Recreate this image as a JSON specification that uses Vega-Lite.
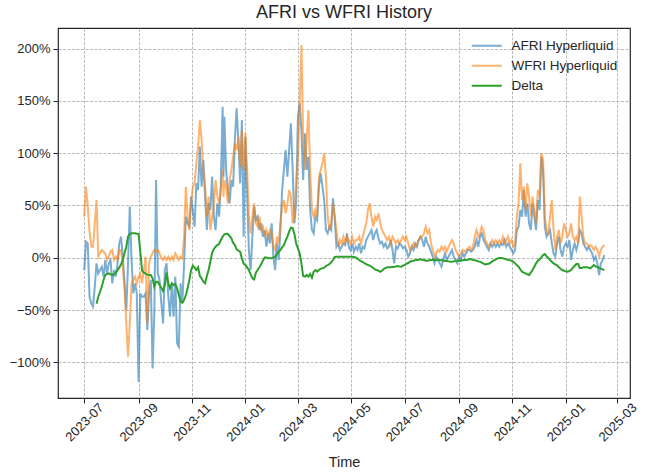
{
"$schema": "https://vega.github.io/schema/vega-lite/v6.json",
"width": 572, "height": 370,
"autosize": {"type": "none"},
"padding": {"left": 58, "top": 28, "right": 19, "bottom": 74},
"background": "white",
"title": {"text": "AFRI vs WFRI History", "fontSize": 18, "fontWeight": "normal", "color": "#262626", "offset": 6, "frame": "group", "anchor": "middle"},
"data": {"values": [
{"t":"2023-07-01","a":-0.118,"b":0.392},
{"t":"2023-07-03","a":0.153,"b":0.679},
{"t":"2023-07-05","a":0.137,"b":0.488},
{"t":"2023-07-07","a":-0.373,"b":0.249},
{"t":"2023-07-09","a":-0.436,"b":0.105},
{"t":"2023-07-11","a":-0.468,"b":0.105},
{"t":"2023-07-13","a":-0.277,"b":0.329},
{"t":"2023-07-15","a":-0.054,"b":0.552,"c":-0.44},
{"t":"2023-07-17","a":-0.15,"b":0.01,"c":-0.373},
{"t":"2023-07-19","a":-0.118,"b":0.042,"c":-0.325},
{"t":"2023-07-21","a":-0.086,"b":0.074,"c":-0.277},
{"t":"2023-07-23","a":-0.181,"b":0.058,"c":-0.213},
{"t":"2023-07-25","a":-0.022,"b":0.042,"c":-0.165},
{"t":"2023-07-27","a":-0.15,"b":-0.022,"c":-0.156},
{"t":"2023-07-29","a":-0.054,"b":0.01,"c":-0.15},
{"t":"2023-07-31","a":-0.022,"b":0.058,"c":-0.159},
{"t":"2023-08-02","a":-0.245,"b":0.074,"c":-0.165},
{"t":"2023-08-04","a":-0.118,"b":-0.022,"c":-0.156},
{"t":"2023-08-06","a":-0.181,"b":0.01,"c":-0.143},
{"t":"2023-08-08","a":-0.054,"b":-0.022,"c":-0.118},
{"t":"2023-08-10","a":0.137,"b":0.074,"c":-0.095},
{"t":"2023-08-12","a":0.201,"b":0.074,"c":-0.063},
{"t":"2023-08-14","a":0.01,"b":-0.086,"c":-0.022},
{"t":"2023-08-16","a":-0.245,"b":-0.309,"c":0.042},
{"t":"2023-08-18","a":-0.5,"b":-0.628,"c":0.105},
{"t":"2023-08-20","a":-0.054,"b":-0.946,"c":0.201},
{"t":"2023-08-22","a":0.49,"b":-0.628,"c":0.227},
{"t":"2023-08-24","a":-0.022,"b":-0.245,"c":0.233},
{"t":"2023-08-26","a":-0.341,"b":-0.213,"c":0.233},
{"t":"2023-08-28","a":-0.245,"b":-0.181,"c":0.233},
{"t":"2023-08-30","a":-0.341,"b":-0.245,"c":0.23},
{"t":"2023-09-01","a":-1.185,"b":-0.181,"c":0.227},
{"t":"2023-09-03","a":-0.341,"b":-0.15,"c":0.058},
{"t":"2023-09-05","a":-0.373,"b":-0.245,"c":-0.124},
{"t":"2023-09-07","a":-0.373,"b":-0.118,"c":-0.143},
{"t":"2023-09-09","a":-0.341,"b":0.01,"c":-0.153},
{"t":"2023-09-11","a":-0.691,"b":-0.628,"c":-0.162},
{"t":"2023-09-13","a":-0.341,"b":-0.054,"c":-0.165},
{"t":"2023-09-15","a":-0.213,"b":0.01,"c":-0.165},
{"t":"2023-09-17","a":-1.058,"b":0.042,"c":-0.197},
{"t":"2023-09-19","a":-0.532,"b":0.074,"c":-0.277},
{"t":"2023-09-21","a":0.743,"b":0.058,"c":-0.229},
{"t":"2023-09-23","a":-0.15,"b":0.074,"c":-0.229},
{"t":"2023-09-25","a":-0.213,"b":0.042,"c":-0.261},
{"t":"2023-09-27","a":-0.436,"b":-0.006,"c":-0.286},
{"t":"2023-09-29","a":-0.628,"b":-0.022,"c":-0.318},
{"t":"2023-10-01","a":-0.118,"b":0.01,"c":-0.261},
{"t":"2023-10-03","a":-0.054,"b":-0.022,"c":-0.14},
{"t":"2023-10-05","a":-0.373,"b":0.01,"c":-0.245},
{"t":"2023-10-07","a":-0.564,"b":-0.022,"c":-0.293},
{"t":"2023-10-09","a":-0.245,"b":0.01,"c":-0.245},
{"t":"2023-10-11","a":-0.564,"b":-0.022,"c":-0.261},
{"t":"2023-10-13","a":-0.181,"b":0.042,"c":-0.251},
{"t":"2023-10-15","a":-0.819,"b":0.01,"c":-0.293},
{"t":"2023-10-17","a":-0.851,"b":-0.022,"c":-0.357},
{"t":"2023-10-19","a":-0.245,"b":0.01,"c":-0.42},
{"t":"2023-10-21","a":-0.436,"b":-0.006,"c":-0.43},
{"t":"2023-10-23","a":-0.054,"b":0.201,"c":-0.404},
{"t":"2023-10-25","a":0.392,"b":0.679,"c":-0.357},
{"t":"2023-10-27","a":0.329,"b":0.392,"c":-0.293},
{"t":"2023-10-29","a":0.297,"b":0.265,"c":-0.213},
{"t":"2023-10-31","a":0.584,"b":0.52,"c":-0.118},
{"t":"2023-11-02","a":0.456,"b":0.679,"c":-0.076},
{"t":"2023-11-04","a":0.297,"b":0.711,"c":-0.095},
{"t":"2023-11-06","a":0.711,"b":0.902,"c":-0.118},
{"t":"2023-11-08","a":0.647,"b":1.062,"c":-0.092},
{"t":"2023-11-10","a":1.062,"b":1.317,"c":-0.175},
{"t":"2023-11-12","a":0.679,"b":1.125,"c":-0.197},
{"t":"2023-11-14","a":0.934,"b":0.839,"c":-0.229},
{"t":"2023-11-16","a":0.584,"b":0.679,"c":-0.245},
{"t":"2023-11-18","a":0.265,"b":0.392,"c":-0.175},
{"t":"2023-11-20","a":0.52,"b":0.584,"c":-0.118},
{"t":"2023-11-22","a":0.456,"b":0.265,"c":-0.038},
{"t":"2023-11-24","a":0.775,"b":0.392,"c":0.048},
{"t":"2023-11-26","a":0.392,"b":0.488,"c":0.083},
{"t":"2023-11-28","a":0.265,"b":0.743,"c":0.105},
{"t":"2023-11-30","a":0.52,"b":0.584,"c":0.121},
{"t":"2023-12-02","a":0.392,"b":0.52,"c":0.131},
{"t":"2023-12-04","a":0.711,"b":0.647,"c":0.169},
{"t":"2023-12-06","a":1.444,"b":0.839,"c":0.201},
{"t":"2023-12-07","a":0.775,"b":0.584,"c":0.21},
{"t":"2023-12-08","a":1.348,"b":0.743,"c":0.224},
{"t":"2023-12-10","a":0.839,"b":0.679,"c":0.23},
{"t":"2023-12-12","a":0.647,"b":0.52,"c":0.227},
{"t":"2023-12-14","a":0.52,"b":0.743,"c":0.207},
{"t":"2023-12-16","a":0.743,"b":0.839,"c":0.185},
{"t":"2023-12-18","a":0.679,"b":0.966,"c":0.144},
{"t":"2023-12-20","a":1.125,"b":1.093,"c":0.121},
{"t":"2023-12-22","a":1.428,"b":1.03,"c":0.08},
{"t":"2023-12-24","a":1.125,"b":1.157,"c":0.067},
{"t":"2023-12-26","a":0.711,"b":0.87,"c":0.058},
{"t":"2023-12-28","a":1.317,"b":1.221,"c":-0.006},
{"t":"2023-12-30","a":0.201,"b":0.839,"c":-0.057},
{"t":"2024-01-01","a":1.157,"b":1.189,"c":-0.07},
{"t":"2024-01-03","a":0.584,"b":0.839,"c":-0.092},
{"t":"2024-01-05","a":0.074,"b":0.392,"c":-0.118},
{"t":"2024-01-07","a":-0.118,"b":0.233,"c":-0.159},
{"t":"2024-01-09","a":0.201,"b":0.392,"c":-0.197},
{"t":"2024-01-11","a":0.488,"b":0.52,"c":-0.207},
{"t":"2024-01-13","a":0.36,"b":0.329,"c":-0.143},
{"t":"2024-01-15","a":0.392,"b":0.297,"c":-0.118},
{"t":"2024-01-17","a":0.265,"b":0.392,"c":-0.092},
{"t":"2024-01-19","a":0.329,"b":0.265,"c":-0.063},
{"t":"2024-01-21","a":0.201,"b":0.297,"c":-0.028},
{"t":"2024-01-23","a":0.265,"b":0.201,"c":0.001},
{"t":"2024-01-25","a":0.105,"b":0.265,"c":0.001},
{"t":"2024-01-27","a":0.233,"b":0.201,"c":-0.006},
{"t":"2024-01-29","a":0.137,"b":0.265,"c":-0.006},
{"t":"2024-01-31","a":0.329,"b":0.233,"c":-0.006},
{"t":"2024-02-02","a":0.01,"b":0.105,"c":0.003},
{"t":"2024-02-04","a":-0.118,"b":0.074,"c":0.01},
{"t":"2024-02-06","a":0.137,"b":0.201,"c":0.035},
{"t":"2024-02-08","a":-0.022,"b":0.137,"c":0.058},
{"t":"2024-02-10","a":0.265,"b":0.329,"c":0.074},
{"t":"2024-02-12","a":0.647,"b":0.488,"c":0.099},
{"t":"2024-02-14","a":0.839,"b":0.552,"c":0.121},
{"t":"2024-02-16","a":1.03,"b":0.424,"c":0.163},
{"t":"2024-02-18","a":0.775,"b":0.52,"c":0.201},
{"t":"2024-02-20","a":1.03,"b":0.647,"c":0.249},
{"t":"2024-02-22","a":1.285,"b":0.584,"c":0.287},
{"t":"2024-02-24","a":0.839,"b":0.329,"c":0.284},
{"t":"2024-02-26","a":0.329,"b":0.392,"c":0.227},
{"t":"2024-02-28","a":0.52,"b":0.711,"c":0.137},
{"t":"2024-03-01","a":1.348,"b":0.966,"c":0.089},
{"t":"2024-03-03","a":1.476,"b":1.444,"c":0.042},
{"t":"2024-03-05","a":1.221,"b":2.034,"c":-0.054},
{"t":"2024-03-07","a":0.743,"b":1.157,"c":-0.175},
{"t":"2024-03-09","a":1.189,"b":0.839,"c":-0.181},
{"t":"2024-03-11","a":0.839,"b":1.125,"c":-0.165},
{"t":"2024-03-13","a":0.966,"b":1.412,"c":-0.181},
{"t":"2024-03-15","a":0.456,"b":0.839,"c":-0.156},
{"t":"2024-03-17","a":0.265,"b":0.456,"c":-0.191},
{"t":"2024-03-19","a":0.233,"b":0.392,"c":-0.134},
{"t":"2024-03-21","a":0.392,"b":0.456,"c":-0.118},
{"t":"2024-03-23","a":0.36,"b":0.392,"c":-0.134},
{"t":"2024-03-25","a":0.679,"b":0.775,"c":-0.118},
{"t":"2024-03-27","a":0.807,"b":0.839,"c":-0.105},
{"t":"2024-03-29","a":0.679,"b":0.902,"c":-0.102},
{"t":"2024-03-31","a":0.552,"b":0.998,"c":-0.095},
{"t":"2024-04-02","a":0.265,"b":0.775,"c":-0.079},
{"t":"2024-04-04","a":0.233,"b":0.392,"c":-0.07},
{"t":"2024-04-06","a":0.297,"b":0.265,"c":-0.06},
{"t":"2024-04-08","a":0.265,"b":0.329,"c":-0.044},
{"t":"2024-04-10","a":0.568,"b":0.52,"c":-0.022},
{"t":"2024-04-12","a":0.392,"b":0.392,"c":0.007},
{"t":"2024-04-14","a":0.105,"b":0.265,"c":0.01},
{"t":"2024-04-16","a":0.137,"b":0.105,"c":0.01},
{"t":"2024-04-18","a":0.074,"b":0.169,"c":0.01},
{"t":"2024-04-20","a":0.105,"b":0.137,"c":0.01},
{"t":"2024-04-22","a":0.137,"b":0.201,"c":0.01},
{"t":"2024-04-24","a":0.121,"b":0.137,"c":0.01},
{"t":"2024-04-26","a":0.233,"b":0.201,"c":0.01},
{"t":"2024-04-28","a":0.105,"b":0.169,"c":0.01},
{"t":"2024-04-30","a":0.074,"b":0.137,"c":0.01},
{"t":"2024-05-02","a":0.137,"b":0.201,"c":0.01},
{"t":"2024-05-04","a":0.058,"b":0.137,"c":0.007},
{"t":"2024-05-06","a":0.105,"b":0.169,"c":0.003},
{"t":"2024-05-08","a":0.074,"b":0.169,"c":-0.009},
{"t":"2024-05-10","a":0.137,"b":0.201,"c":-0.022},
{"t":"2024-05-12","a":0.042,"b":0.137,"c":-0.032},
{"t":"2024-05-14","a":0.105,"b":0.201,"c":-0.041},
{"t":"2024-05-16","a":0.089,"b":0.265,"c":-0.051},
{"t":"2024-05-18","a":0.169,"b":0.329,"c":-0.06},
{"t":"2024-05-20","a":0.201,"b":0.456,"c":-0.07},
{"t":"2024-05-22","a":0.233,"b":0.52,"c":-0.076},
{"t":"2024-05-24","a":0.265,"b":0.392,"c":-0.086},
{"t":"2024-05-26","a":0.169,"b":0.297,"c":-0.098},
{"t":"2024-05-28","a":0.233,"b":0.392,"c":-0.111},
{"t":"2024-05-30","a":0.265,"b":0.36,"c":-0.118},
{"t":"2024-06-01","a":0.185,"b":0.424,"c":-0.124},
{"t":"2024-06-03","a":0.137,"b":0.329,"c":-0.134},
{"t":"2024-06-05","a":0.153,"b":0.265,"c":-0.124},
{"t":"2024-06-07","a":0.105,"b":0.233,"c":-0.108},
{"t":"2024-06-09","a":0.137,"b":0.201,"c":-0.098},
{"t":"2024-06-11","a":0.089,"b":0.169,"c":-0.092},
{"t":"2024-06-13","a":0.105,"b":0.201,"c":-0.092},
{"t":"2024-06-15","a":0.169,"b":0.137,"c":-0.092},
{"t":"2024-06-17","a":0.074,"b":0.201,"c":-0.089},
{"t":"2024-06-19","a":-0.054,"b":0.169,"c":-0.086},
{"t":"2024-06-21","a":0.105,"b":0.137,"c":-0.083},
{"t":"2024-06-23","a":0.089,"b":0.169,"c":-0.079},
{"t":"2024-06-25","a":0.137,"b":0.137,"c":-0.083},
{"t":"2024-06-27","a":0.121,"b":0.169,"c":-0.086},
{"t":"2024-06-29","a":0.089,"b":0.201,"c":-0.076},
{"t":"2024-07-01","a":0.105,"b":0.169,"c":-0.07},
{"t":"2024-07-03","a":0.074,"b":0.201,"c":-0.057},
{"t":"2024-07-05","a":0.01,"b":0.137,"c":-0.051},
{"t":"2024-07-07","a":0.042,"b":0.074,"c":-0.038},
{"t":"2024-07-09","a":0.105,"b":0.105,"c":-0.032},
{"t":"2024-07-11","a":0.074,"b":0.137,"c":-0.028},
{"t":"2024-07-13","a":0.137,"b":0.105,"c":-0.025},
{"t":"2024-07-15","a":0.105,"b":0.137,"c":-0.022},
{"t":"2024-07-17","a":0.169,"b":0.169,"c":-0.019},
{"t":"2024-07-19","a":0.201,"b":0.201,"c":-0.015},
{"t":"2024-07-21","a":0.169,"b":0.201,"c":-0.019},
{"t":"2024-07-23","a":0.105,"b":0.233,"c":-0.022},
{"t":"2024-07-25","a":0.201,"b":0.297,"c":-0.028},
{"t":"2024-07-27","a":0.137,"b":0.233,"c":-0.028},
{"t":"2024-07-29","a":0.105,"b":0.265,"c":-0.025},
{"t":"2024-07-31","a":0.058,"b":0.137,"c":-0.022},
{"t":"2024-08-02","a":0.01,"b":0.074,"c":-0.019},
{"t":"2024-08-04","a":-0.054,"b":0.01,"c":-0.022},
{"t":"2024-08-06","a":0.01,"b":0.042,"c":-0.025},
{"t":"2024-08-08","a":-0.022,"b":0.074,"c":-0.022},
{"t":"2024-08-10","a":-0.054,"b":0.058,"c":-0.022},
{"t":"2024-08-12","a":-0.086,"b":0.105,"c":-0.025},
{"t":"2024-08-14","a":-0.022,"b":0.074,"c":-0.028},
{"t":"2024-08-16","a":0.042,"b":0.105,"c":-0.032},
{"t":"2024-08-18","a":-0.022,"b":0.058,"c":-0.032},
{"t":"2024-08-20","a":0.01,"b":0.105,"c":-0.035},
{"t":"2024-08-22","a":0.042,"b":0.137,"c":-0.038},
{"t":"2024-08-24","a":0.074,"b":0.169,"c":-0.038},
{"t":"2024-08-26","a":0.01,"b":0.137,"c":-0.035},
{"t":"2024-08-28","a":-0.022,"b":0.074,"c":-0.032},
{"t":"2024-08-30","a":-0.054,"b":0.042,"c":-0.028},
{"t":"2024-09-01","a":0.01,"b":0.01,"c":-0.028},
{"t":"2024-09-03","a":-0.022,"b":0.042,"c":-0.028},
{"t":"2024-09-05","a":0.042,"b":0.074,"c":-0.025},
{"t":"2024-09-07","a":0.01,"b":0.058,"c":-0.022},
{"t":"2024-09-09","a":0.042,"b":0.074,"c":-0.022},
{"t":"2024-09-11","a":0.074,"b":0.089,"c":-0.019},
{"t":"2024-09-13","a":0.074,"b":0.105,"c":-0.012},
{"t":"2024-09-15","a":0.058,"b":0.074,"c":-0.015},
{"t":"2024-09-17","a":0.074,"b":0.105,"c":-0.022},
{"t":"2024-09-19","a":0.105,"b":0.201,"c":-0.025},
{"t":"2024-09-21","a":0.169,"b":0.265,"c":-0.028},
{"t":"2024-09-23","a":0.105,"b":0.201,"c":-0.035},
{"t":"2024-09-25","a":0.201,"b":0.233,"c":-0.038},
{"t":"2024-09-27","a":0.233,"b":0.297,"c":-0.047},
{"t":"2024-09-29","a":0.169,"b":0.265,"c":-0.057},
{"t":"2024-10-01","a":0.137,"b":0.169,"c":-0.064},
{"t":"2024-10-03","a":0.105,"b":0.137,"c":-0.06},
{"t":"2024-10-05","a":0.074,"b":0.105,"c":-0.057},
{"t":"2024-10-07","a":0.137,"b":0.137,"c":-0.047},
{"t":"2024-10-09","a":0.105,"b":0.169,"c":-0.035},
{"t":"2024-10-11","a":0.137,"b":0.137,"c":-0.025},
{"t":"2024-10-13","a":0.105,"b":0.169,"c":-0.016},
{"t":"2024-10-15","a":0.137,"b":0.137,"c":-0.006},
{"t":"2024-10-17","a":0.105,"b":0.169,"c":-0.003},
{"t":"2024-10-19","a":0.137,"b":0.137,"c":-0.003},
{"t":"2024-10-21","a":0.121,"b":0.201,"c":-0.006},
{"t":"2024-10-23","a":0.169,"b":0.137,"c":-0.009},
{"t":"2024-10-25","a":0.105,"b":0.169,"c":-0.015},
{"t":"2024-10-27","a":0.137,"b":0.201,"c":-0.019},
{"t":"2024-10-29","a":0.105,"b":0.137,"c":-0.025},
{"t":"2024-10-31","a":0.074,"b":0.169,"c":-0.028},
{"t":"2024-11-02","a":0.042,"b":0.105,"c":-0.038},
{"t":"2024-11-04","a":0.074,"b":0.137,"c":-0.054},
{"t":"2024-11-06","a":0.265,"b":0.392,"c":-0.07},
{"t":"2024-11-08","a":0.297,"b":0.52,"c":-0.086},
{"t":"2024-11-10","a":0.456,"b":0.902,"c":-0.111},
{"t":"2024-11-12","a":0.392,"b":0.552,"c":-0.134},
{"t":"2024-11-14","a":0.647,"b":0.679,"c":-0.143},
{"t":"2024-11-16","a":0.392,"b":0.456,"c":-0.15},
{"t":"2024-11-18","a":0.52,"b":0.711,"c":-0.159},
{"t":"2024-11-20","a":0.329,"b":0.584,"c":-0.165},
{"t":"2024-11-22","a":0.265,"b":0.392,"c":-0.143},
{"t":"2024-11-24","a":0.52,"b":0.584,"c":-0.118},
{"t":"2024-11-26","a":0.392,"b":0.456,"c":-0.086},
{"t":"2024-11-28","a":0.265,"b":0.329,"c":-0.054},
{"t":"2024-11-30","a":0.552,"b":0.647,"c":-0.028},
{"t":"2024-12-02","a":0.456,"b":0.584,"c":-0.016},
{"t":"2024-12-04","a":0.966,"b":0.998,"c":0.003},
{"t":"2024-12-06","a":0.839,"b":0.934,"c":0.026},
{"t":"2024-12-08","a":0.297,"b":0.392,"c":0.035},
{"t":"2024-12-10","a":0.201,"b":0.265,"c":0.013},
{"t":"2024-12-12","a":0.233,"b":0.233,"c":-0.003},
{"t":"2024-12-14","a":0.265,"b":0.392,"c":-0.022},
{"t":"2024-12-16","a":0.137,"b":0.552,"c":-0.038},
{"t":"2024-12-18","a":0.042,"b":0.265,"c":-0.054},
{"t":"2024-12-20","a":0.01,"b":0.074,"c":-0.064},
{"t":"2024-12-22","a":0.137,"b":0.201,"c":-0.073},
{"t":"2024-12-24","a":0.201,"b":0.265,"c":-0.092},
{"t":"2024-12-26","a":0.074,"b":0.137,"c":-0.105},
{"t":"2024-12-28","a":0.01,"b":0.201,"c":-0.118},
{"t":"2024-12-30","a":0.105,"b":0.329,"c":-0.124},
{"t":"2025-01-01","a":0.137,"b":0.265,"c":-0.13},
{"t":"2025-01-03","a":0.105,"b":0.201,"c":-0.134},
{"t":"2025-01-05","a":0.169,"b":0.233,"c":-0.127},
{"t":"2025-01-07","a":-0.022,"b":0.329,"c":-0.118},
{"t":"2025-01-09","a":0.074,"b":0.201,"c":-0.095},
{"t":"2025-01-11","a":0.137,"b":0.169,"c":-0.079},
{"t":"2025-01-13","a":0.074,"b":0.201,"c":-0.06},
{"t":"2025-01-15","a":0.137,"b":0.137,"c":-0.06},
{"t":"2025-01-17","a":0.265,"b":0.584,"c":-0.099},
{"t":"2025-01-19","a":0.233,"b":0.392,"c":-0.099},
{"t":"2025-01-21","a":0.137,"b":0.201,"c":-0.092},
{"t":"2025-01-23","a":0.105,"b":0.137,"c":-0.092},
{"t":"2025-01-25","a":0.074,"b":0.137,"c":-0.092},
{"t":"2025-01-27","a":0.105,"b":0.105,"c":-0.095},
{"t":"2025-01-29","a":0.074,"b":0.121,"c":-0.102},
{"t":"2025-01-31","a":0.042,"b":0.105,"c":-0.086},
{"t":"2025-02-02","a":-0.022,"b":0.074,"c":-0.07},
{"t":"2025-02-04","a":0.01,"b":0.105,"c":-0.083},
{"t":"2025-02-06","a":-0.054,"b":0.074,"c":-0.089},
{"t":"2025-02-08","a":-0.165,"b":0.01,"c":-0.095},
{"t":"2025-02-10","a":-0.054,"b":0.074,"c":-0.105},
{"t":"2025-02-12","a":-0.022,"b":0.105,"c":-0.111},
{"t":"2025-02-14","a":0.026,"b":0.121,"c":-0.118}
]},
"transform": [{"fold": ["a", "b", "c"], "as": ["series", "value"]}],
"mark": {"type": "line", "strokeWidth": 2, "interpolate": "linear"},
"encoding": {
  "x": {"field": "t", "type": "temporal",
    "scale": {"type": "utc", "domain": [{"year": 2023, "month": 6, "date": 1, "utc": true}, {"year": 2025, "month": 3, "date": 15, "hours": 7, "utc": true}]},
    "axis": {"title": "Time", "labelExpr": "utcFormat(datum.value, '%Y-%m')",
      "values": [{"year":2023,"month":7,"date":1,"utc":true},{"year":2023,"month":9,"date":1,"utc":true},{"year":2023,"month":11,"date":1,"utc":true},{"year":2024,"month":1,"date":1,"utc":true},{"year":2024,"month":3,"date":1,"utc":true},{"year":2024,"month":5,"date":1,"utc":true},{"year":2024,"month":7,"date":1,"utc":true},{"year":2024,"month":9,"date":1,"utc":true},{"year":2024,"month":11,"date":1,"utc":true},{"year":2025,"month":1,"date":1,"utc":true},{"year":2025,"month":3,"date":1,"utc":true}],
      "labelAngle": -45, "labelAlign": "center", "labelBaseline": "middle", "labelPadding": 19, "titlePadding": 12, "labelFlush": false, "labelOverlap": false}},
  "y": {"field": "value", "type": "quantitative",
    "scale": {"domain": [-1.341, 2.196], "nice": false, "zero": false},
    "axis": {"title": null, "format": ".0%", "values": [-1, -0.5, 0, 0.5, 1, 1.5, 2], "labelPadding": 3}},
  "color": {"field": "series", "type": "nominal",
    "scale": {"domain": ["a", "b", "c"], "range": ["rgba(31,119,180,0.6)", "rgba(255,127,14,0.6)", "#2ca02c"]},
    "legend": {"title": null, "orient": "none", "legendX": 422, "legendY": 11, "symbolType": "M-3,0H3", "symbolSize": 100, "symbolStrokeWidth": 2, "labelFontSize": 13.5, "labelColor": "#262626", "labelOffset": 18, "rowPadding": 5, "padding": 0,
      "labelExpr": "datum.label == 'a' ? 'AFRI Hyperliquid' : (datum.label == 'b' ? 'WFRI Hyperliquid' : 'Delta')"}}
},
"config": {
  "font": "Liberation Sans",
  "view": {"stroke": "#262626", "strokeWidth": 1.2},
  "axis": {"domain": false, "grid": true, "gridColor": "#a8a8a8", "gridDash": [3, 1.5], "gridWidth": 0.8, "tickColor": "#262626", "tickSize": 5, "tickWidth": 1, "labelColor": "#262626", "labelFontSize": 13, "titleColor": "#262626", "titleFontWeight": "normal", "titleFontSize": 14.5}
}
}
